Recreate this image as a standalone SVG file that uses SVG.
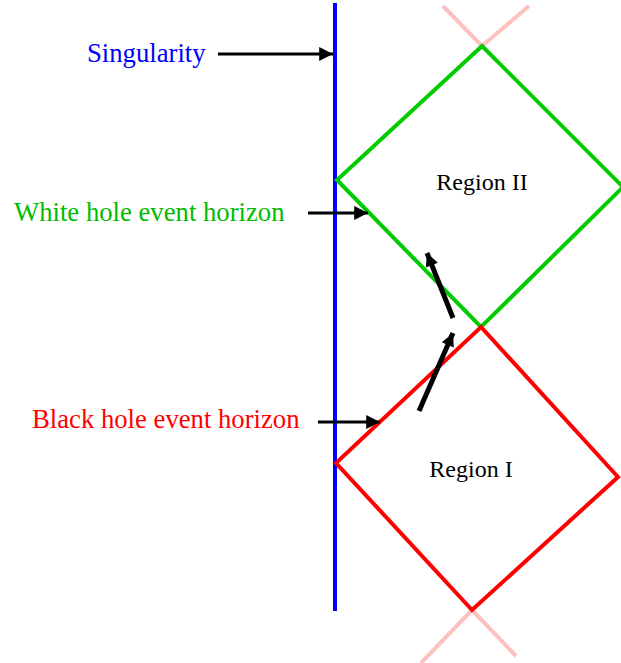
<svg xmlns="http://www.w3.org/2000/svg" width="621" height="663" viewBox="0 0 621 663">
<style>
text{font-family:"Liberation Serif","Times New Roman",serif}
.lbl{font-size:26.7px}
.reg{font-size:24px;fill:#000}
.pink{stroke:#ffc0c0;stroke-width:4;fill:none}
.c{stroke:#000;stroke-width:3;fill:none}
.t{stroke:#000;stroke-width:5;fill:none}
</style>
<defs>
<marker id="ah" viewBox="0 0 10 10" refX="10" refY="5" markerWidth="6" markerHeight="4.6" markerUnits="strokeWidth" orient="auto">
<path d="M0,0 L10,5 L0,10 z" fill="#000"/>
</marker>
<marker id="ahT" viewBox="0 0 10 10" refX="10" refY="5" markerWidth="4.6" markerHeight="2.6" markerUnits="strokeWidth" orient="auto">
<path d="M0,0 L10,5 L0,10 z" fill="#000"/>
</marker>
</defs>
<rect width="621" height="663" fill="#fff"/>
<g id="pink-extensions">
<path class="pink" d="M443,6 L482,46 L529,6"/>
<path class="pink" d="M421,663 L472,610 L516,656"/>
</g>
<g id="singularity-line">
<line x1="335" y1="3" x2="335" y2="611" stroke="#0000ff" stroke-width="4"/>
</g>
<g id="region-II">
<path d="M482,46 L623,187 L481,327 L337,180 Z" fill="none" stroke="#00cc00" stroke-width="4"/>
<text class="reg" x="482" y="190" text-anchor="middle">Region II</text>
</g>
<g id="region-I">
<path d="M481,327 L618,477 L472,610 L336,463 Z" fill="none" stroke="#ff0000" stroke-width="4"/>
<text class="reg" x="471" y="477" text-anchor="middle">Region I</text>
</g>
<g id="label-singularity">
<text class="lbl" x="87" y="62" fill="#0000ff">Singularity</text>
</g>
<g id="label-white">
<text class="lbl" x="14" y="221" fill="#00bb00">White hole event horizon</text>
</g>
<g id="label-black">
<text class="lbl" x="32" y="428" fill="#ff0000">Black hole event horizon</text>
</g>
<g id="connectors">
<line class="c" x1="218" y1="54" x2="333" y2="54" marker-end="url(#ah)"/>
<line class="c" x1="308" y1="213" x2="368" y2="213" marker-end="url(#ah)"/>
<line class="c" x1="318" y1="422" x2="380" y2="422" marker-end="url(#ah)"/>
<line class="t" x1="419" y1="411" x2="453" y2="333" marker-end="url(#ahT)"/>
<line class="t" x1="453" y1="318" x2="427" y2="253" marker-end="url(#ahT)"/>
</g>
</svg>
